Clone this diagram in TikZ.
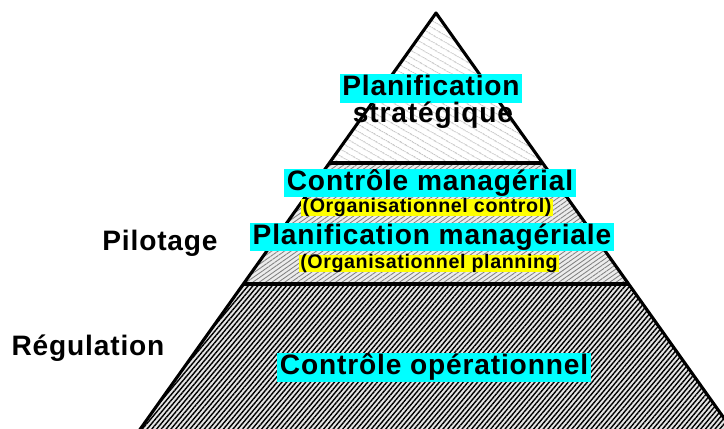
\documentclass[tikz,border=0pt]{standalone}
\usepackage{fontspec}
\setmainfont{Liberation Sans}[LetterSpace=3]
\usetikzlibrary{patterns.meta}

\definecolor{boxcyan}{RGB}{0,255,255}
\definecolor{boxyellow}{RGB}{255,255,0}

% Styles for the labels and the levels of the pyramid
\tikzset{
  title/.style={font=\bfseries\fontsize{20}{22}\selectfont, fill=boxcyan,
    text height=15pt, text depth=4.5pt, inner xsep=2pt, inner ysep=0.5pt},
  subtitle/.style={font=\bfseries\fontsize{14}{16}\selectfont, fill=boxyellow,
    text height=9.5pt, text depth=2.5pt, inner xsep=1pt, inner ysep=0pt},
  side/.style={font=\bfseries\fontsize{20}{22}\selectfont, inner sep=0pt, anchor=base},
  level/.style={draw=black, line width=2.2pt, line join=round}
}

\begin{document}
\begin{tikzpicture}[x=0.025cm, y=-0.025cm]

\useasboundingbox (0,0) rectangle (724,428);

% Define dimensions of the pyramid (in pixels of the picture)
\def\ax{436}      % x of the apex
\def\ay{13}       % y of the apex
\def\sl{0.7108}   % half width gained per unit of height

\def\ya{163}      % line between top and middle level
\def\yb{284}      % line between middle and bottom level
\def\yc{445}      % below the picture, the base is cut away

% Define coordinates used in the diagram
\coordinate (apex) at (\ax,\ay);
\coordinate (al) at ({\ax-\sl*(\ya-\ay)},\ya);
\coordinate (ar) at ({\ax+\sl*(\ya-\ay)},\ya);
\coordinate (bl) at ({\ax-\sl*(\yb-\ay)},\yb);
\coordinate (br) at ({\ax+\sl*(\yb-\ay)},\yb);
\coordinate (cl) at ({\ax-\sl*(\yc-\ay)},\yc);
\coordinate (cr) at ({\ax+\sl*(\yc-\ay)},\yc);

\begin{scope}
\clip (0,0) rectangle (724,428);

% Bottom level: dense dark hatching
\fill [gray!20] (bl) -- (br) -- (cr) -- (cl) -- cycle;
\fill [pattern={Lines[angle=50,distance=2.6pt,line width=1pt]}, pattern color=black] (bl) -- (br) -- (cr) -- (cl) -- cycle;

% Middle level: grey hatching
\fill [gray!15] (al) -- (ar) -- (br) -- (bl) -- cycle;
\fill [pattern={Lines[angle=35,distance=2.6pt,line width=0.6pt]}, pattern color=gray] (al) -- (ar) -- (br) -- (bl) -- cycle;

% Top level: light hatching
\fill [pattern={Lines[angle=-30,distance=4pt,line width=0.5pt]}, pattern color=gray!70] (apex) -- (ar) -- (al) -- cycle;

% Outline and the lines between the levels
\draw [level] (cl) -- (apex) -- (cr);
\draw [level] (al) -- (ar);
\draw [level] (bl) -- (br);
\end{scope}

% Labels inside the pyramid
\node [title] (strat) at (431,88.5) {Planification};
\node [side] (stratb) at (433,122) {stratégique};

\node [title] (ctrlman) at (430,183) {Contrôle managérial};
\node [subtitle] (ctrlorg) at (427,207.5) {(Organisationnel control)};
\node [title] (planman) at (432,237) {Planification managériale};
\node [subtitle] (planorg) at (429,263.5) {(Organisationnel planning};

\node [title] (ctrlop) at (434,367.5) {Contrôle opérationnel};

% Labels on the left
\node [side] (pilot) at (160,250) {Pilotage};
\node [side] (regul) at (88,355) {Régulation};

\end{tikzpicture}
\end{document}
